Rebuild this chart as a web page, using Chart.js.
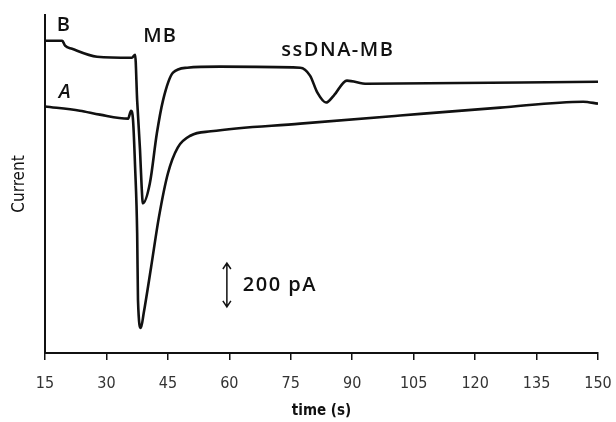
<!DOCTYPE html>
<html>
<head>
<meta charset="utf-8">
<script src="https://cdn.jsdelivr.net/npm/chart.js@4/dist/chart.umd.min.js"></script>
<style>
html,body{margin:0;padding:0;background:#fff;}
#wrap{width:616px;height:422px;position:relative;}
</style>
</head>
<body>
<div id="wrap"><canvas id="c" width="616" height="422"></canvas></div>
<script>
// time (s) and current (pA, arbitrary offset)
const traceB_t = [15, 19.2, 19.9, 21.6, 27.7, 36.2, 37.0, 37.5, 38.2, 38.6, 38.9, 40.6, 42.3, 43.8, 46.25, 49.7, 57.7, 77.3, 79.7, 81.5, 83.6, 85.5, 88.7, 93.6, 150];
const traceB_i = [1423, 1423, 1400, 1386, 1350, 1345, 1359, 1150, 923, 755, 682, 773, 1000, 1150, 1277, 1300, 1305, 1300, 1264, 1186, 1141, 1173, 1241, 1227, 1236];
const traceA_t = [15, 23.5, 28.4, 35.3, 36.0, 36.5, 37.0, 37.5, 37.7, 38.4, 39.1, 40.9, 42.8, 45.0, 47.4, 50.6, 55.5, 77.3, 101.7, 126.1, 146.4, 150];
const traceA_i = [1123, 1104, 1086, 1068, 1104, 1059, 845, 545, 241, 114, 182, 391, 618, 818, 936, 991, 1010, 1045, 1082, 1118, 1145, 1136];
const xTicks = [15, 30, 45, 60, 75, 90, 105, 120, 135, 150];
const labels = ["B", "A", "MB", "ssDNA-MB"];
const scaleBar = 200; // pA

const FONT = "'DejaVu Sans Condensed','DejaVu Sans',sans-serif";
const LFONT = "'Open Sans','DejaVu Sans',sans-serif";
const toPts = (ts, is) => ts.map((t, k) => ({x: t, y: is[k]}));

const annot = {
  id: 'annot',
  afterDatasetsDraw(chart) {
    const {ctx, scales: {x, y}} = chart;
    ctx.save();
    ctx.fillStyle = '#111';
    ctx.textAlign = 'center';
    ctx.textBaseline = 'middle';
    ctx.letterSpacing = '1px';
    ctx.font = '600 20px ' + LFONT;
    ctx.fillText(labels[0], x.getPixelForValue(19.6), y.getPixelForValue(1495));
    ctx.font = 'italic 600 20px ' + LFONT;
    ctx.fillText(labels[1], x.getPixelForValue(19.9), y.getPixelForValue(1186));
    ctx.font = '600 20px ' + LFONT;
    ctx.fillText(labels[2], x.getPixelForValue(43.1), y.getPixelForValue(1441));
    ctx.letterSpacing = '1.5px';
    ctx.fillText(labels[3], x.getPixelForValue(86.5), y.getPixelForValue(1377));
    // scale bar
    const ax = x.getPixelForValue(59.4);
    const y0 = y.getPixelForValue(210), y1 = y.getPixelForValue(210 + scaleBar);
    ctx.strokeStyle = '#111';
    ctx.lineWidth = 1.5;
    ctx.beginPath();
    ctx.moveTo(ax, y0); ctx.lineTo(ax, y1);
    ctx.moveTo(ax - 4, y1 + 6); ctx.lineTo(ax, y1); ctx.lineTo(ax + 4, y1 + 6);
    ctx.moveTo(ax - 4, y0 - 6); ctx.lineTo(ax, y0); ctx.lineTo(ax + 4, y0 - 6);
    ctx.stroke();
    ctx.textAlign = 'left';
    ctx.letterSpacing = '1.5px';
    ctx.fillText(scaleBar + ' pA', x.getPixelForValue(63.3), (y0 + y1) / 2);
    ctx.restore();
  }
};

new Chart(document.getElementById('c'), {
  type: 'line',
  data: {
    datasets: [
      {label: 'B', data: toPts(traceB_t, traceB_i), borderColor: '#111', borderWidth: 2.6, pointRadius: 0, cubicInterpolationMode: 'monotone', fill: false},
      {label: 'A', data: toPts(traceA_t, traceA_i), borderColor: '#111', borderWidth: 2.6, pointRadius: 0, cubicInterpolationMode: 'monotone', fill: false}
    ]
  },
  options: {
    responsive: false,
    animation: false,
    layout: {padding: {top: 15, right: 18, left: 0, bottom: 0}},
    plugins: {legend: {display: false}, tooltip: {enabled: false}},
    scales: {
      x: {
        type: 'linear', min: 15, max: 150,
        afterBuildTicks: s => { s.ticks = xTicks.map(v => ({value: v})); },
        afterFit: s => { s.height = 69; s.paddingLeft = 0; s.paddingRight = 0; },
        grid: {drawOnChartArea: false, drawTicks: true, tickLength: 7, color: '#111', lineWidth: 1.5},
        border: {display: true, color: '#111', width: 2},
        ticks: {color: '#333', font: {size: 16, family: FONT}, padding: 14, maxRotation: 0},
        title: {display: true, text: 'time (s)', color: '#111', font: {size: 15, weight: 'bold', family: FONT}, padding: {top: 0, bottom: 2}}
      },
      y: {
        min: 0, max: 1540,
        afterFit: s => { s.width = 45; s.paddingTop = 0; s.paddingBottom = 0; },
        grid: {display: false},
        border: {display: true, color: '#111', width: 2},
        ticks: {display: false},
        title: {display: true, text: 'Current', color: '#111', font: {size: 17, family: FONT}, padding: {top: 9, bottom: 0}}
      }
    }
  },
  plugins: [annot]
});
</script>
</body>
</html>
